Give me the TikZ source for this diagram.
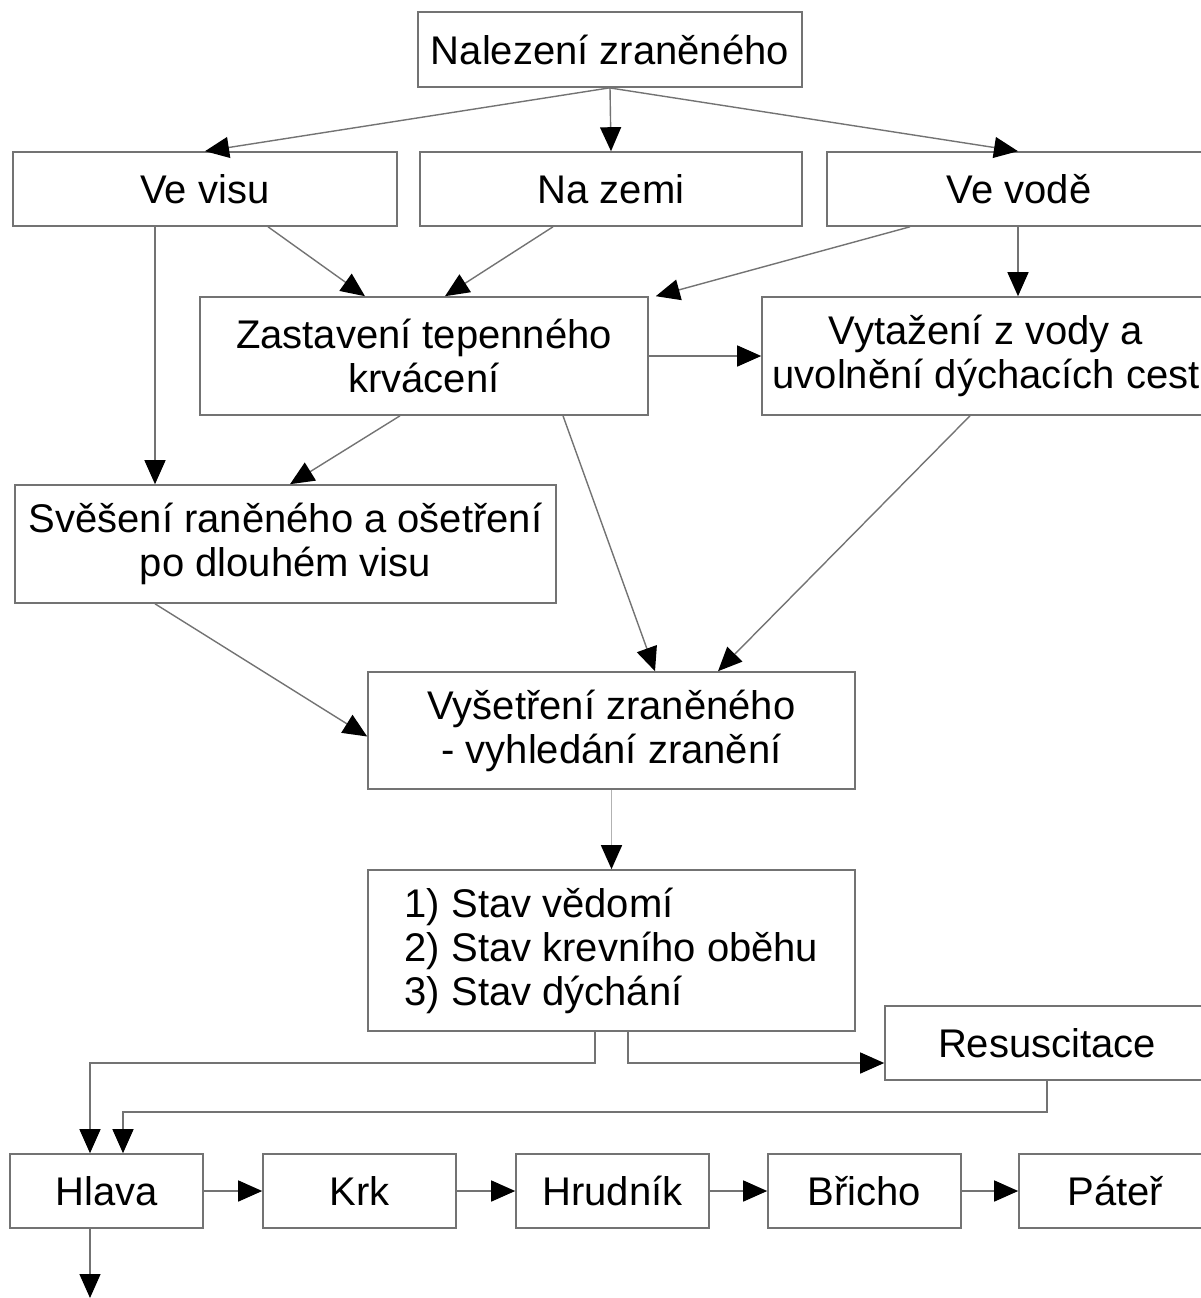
\documentclass[tikz,border=0pt]{standalone}
\usepackage{fontspec}
\setmainfont{Liberation Sans}
\usetikzlibrary{arrows.meta}
\begin{document}
\begin{tikzpicture}[x=1pt, y=-1pt,
    box/.style={draw=black!55, line width=1.6pt, inner sep=0pt, align=center,
        font=\fontsize{40}{44}\selectfont},
    link/.style={draw=black!55, line width=1.4pt,
        -{Triangle[length=24pt, width=21pt, color=black]}}]
    \useasboundingbox (0,0) rectangle (1200,1298);

    % Draw top part
    \node[box, minimum width=384pt, minimum height=75pt] (find) at (610,49.5) {Nalezení zraněného};
    \node[box, minimum width=384pt, minimum height=74pt] (hang) at (205,189) {Ve visu};
    \node[box, minimum width=382pt, minimum height=74pt] (ground) at (611,189) {Na zemi};
    \node[box, minimum width=384pt, minimum height=74pt] (water) at (1019,189) {Ve vodě};

    % Draw middle part
    \node[box, minimum width=448pt, minimum height=118pt] (bleed) at (424,356) {Zastavení tepenného\\krvácení};
    \node[box, minimum width=448pt, minimum height=118pt] (pull) at (986,356) {Vytažení z vody a\\uvolnění dýchacích cest};
    \node[box, minimum width=541pt, minimum height=118pt] (lower) at (285.5,544) {Svěšení raněného a ošetření\\po dlouhém visu};
    \node[box, minimum width=487pt, minimum height=117pt] (exam) at (611.5,730.5) {Vyšetření zraněného\\- vyhledání zranění};
    \node[box, align=left, minimum width=487pt, minimum height=161pt] (state) at (611.5,950.5) {1) Stav vědomí\\2) Stav krevního oběhu\\3) Stav dýchání};
    \node[box, minimum width=324pt, minimum height=74pt] (resus) at (1047,1043) {Resuscitace};

    % Draw bottom row
    \node[box, minimum width=193pt, minimum height=74pt] (head) at (106.5,1191) {Hlava};
    \node[box, minimum width=193pt, minimum height=74pt] (neck) at (359.5,1191) {Krk};
    \node[box, minimum width=193pt, minimum height=74pt] (chest) at (612.5,1191) {Hrudník};
    \node[box, minimum width=193pt, minimum height=74pt] (belly) at (864.5,1191) {Břicho};
    \node[box, minimum width=193pt, minimum height=74pt] (spine) at (1115.5,1191) {Páteř};

    % Helper coordinates
    \coordinate (split) at (0,1063);
    \coordinate (back) at (0,1112);
    \coordinate (next) at (90,1298);

    % Draw arrows
    \draw[link] (find.south) -- (hang.north);
    \draw[link] (find.south) -- (ground.north);
    \draw[link] ([xshift=-1pt]find.south) -- ([xshift=-1pt]water.north);
    \draw[link] ([xshift=-50pt]hang.south) -- ([xshift=-50pt]hang.south |- lower.north);
    \draw[link] ([xshift=63pt]hang.south) -- ([xshift=-59pt]bleed.north);
    \draw[link] ([xshift=-58pt]ground.south) -- ([xshift=21pt]bleed.north);
    \draw[link] ([xshift=-109pt]water.south) -- ([xshift=7pt]bleed.north east);
    \draw[link] ([xshift=-1pt]water.south) -- ([xshift=-1pt]water.south |- pull.north);
    \draw[link] (bleed.east) -- (pull.west);
    \draw[link] ([xshift=-24pt]bleed.south) -- ([xshift=4.5pt]lower.north);
    \draw[link] ([xshift=139pt]bleed.south) -- ([xshift=43.5pt]exam.north);
    \draw[link] ([xshift=-16pt]pull.south) -- ([xshift=106.5pt]exam.north);
    \draw[link] ([xshift=-130.5pt]lower.south) -- ([yshift=-6pt]exam.west);
    \draw[link, draw=black!30] (exam.south) -- (state.north);
    \draw[link] ([xshift=-16.5pt]state.south) -- ([xshift=-16.5pt]state.south |- split) -| ([xshift=-16.5pt]head.north);
    \draw[link] ([xshift=16.5pt]state.south) -- ([xshift=16.5pt]state.south |- split) -- (resus.west |- split);
    \draw[link] (resus.south) -- (resus.south |- back) -| ([xshift=16.5pt]head.north);
    \draw[link] (head.east) -- (neck.west);
    \draw[link] (neck.east) -- (chest.west);
    \draw[link] (chest.east) -- (belly.west);
    \draw[link] (belly.east) -- (spine.west);
    \draw[link] ([xshift=-16.5pt]head.south) -- (next);
\end{tikzpicture}
\end{document}
